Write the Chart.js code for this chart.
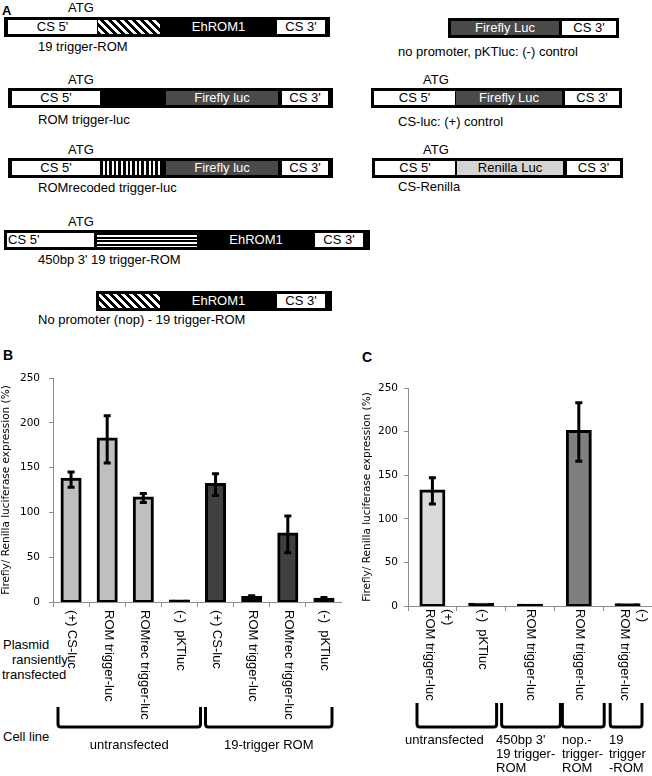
<!DOCTYPE html>
<html><head><meta charset="utf-8">
<script src="https://cdn.jsdelivr.net/npm/chart.js@4.4.1/dist/chart.umd.min.js"></script>
<style>
html,body{margin:0;padding:0;background:#fff;}
#root{position:relative;width:652px;height:776px;overflow:hidden;font-family:"Liberation Sans",Arial,sans-serif;color:#000;background:#fff;}
.t{position:absolute;font-size:13px;line-height:13px;white-space:nowrap;}
.pl{position:absolute;font-weight:bold;white-space:nowrap;}
.box{position:absolute;height:20px;background:#000;}
.seg{position:absolute;top:3px;height:14px;font-size:13px;line-height:14px;text-align:center;white-space:nowrap;overflow:hidden;}
canvas{position:absolute;}
</style></head>
<body><div id="root">
<div class="pl" style="left:2px;top:4px;font-size:13px;line-height:13px;">A</div>
<div class="pl" style="left:3px;top:348px;font-size:14px;line-height:14px;">B</div>
<div class="pl" style="left:362px;top:350px;font-size:14px;line-height:14px;">C</div>
<div class="t" style="left:3px;top:638px;">Plasmid</div>
<div class="t" style="left:12px;top:653px;">ransiently</div>
<div class="t" style="left:2px;top:668px;">transfected</div>
<div class="t" style="left:3px;top:730px;">Cell line</div>
</div>
<script>
// ---------- Panel B data ----------
const bCategories = [['(+) CS-luc'],['ROM trigger-luc'],['ROMrec trigger-luc'],['(-)  pKTluc'],['(+) CS-luc'],['ROM trigger-luc'],['ROMrec trigger-luc'],['(-)  pKTluc']];
const bValues   = [137, 182, 116, 1, 131, 5, 76, 3];
const bErrLow   = [128, 155, 111, 1, 119, 4, 55, 2];
const bErrHigh  = [145, 208, 121, 1, 143, 7, 96, 5];
const bGroupLabels = [['untransfected'], ['19-trigger ROM']];
const bGroupStart  = [0, 4];
const bGroupEnd    = [3, 7];

// ---------- Panel C data ----------
const cCategories = [['(+)','ROM trigger-luc'],['(-)  pKTluc'],['ROM trigger-luc'],['ROM trigger-luc'],['(-)','ROM trigger-luc']];
const cValues   = [132, 2, 1, 200, 1.5];
const cErrLow   = [117, 2, 1, 166, 1.5];
const cErrHigh  = [147, 2, 1, 233, 1.5];
const cGroupLabels = [['untransfected'], ['450bp 3\'','19 trigger-','ROM'], ['nop.-','trigger-','ROM'], ['19','trigger','-ROM']];
const cGroupStart  = [0, 2, 3, 4];
const cGroupEnd    = [1, 2, 3, 4];

// ---------- Y axis ----------
const yTitle = 'Firefly/ Renilla luciferase expression (%)';
const yMax = 250, yStep = 50;

// ---------- Panel A diagram ----------
const diag = 'repeating-linear-gradient(45deg,#000 0 2.8px,#fff 2.8px 5.6px)';
const vert = 'repeating-linear-gradient(90deg,#000 0 2.6px,#fff 2.6px 4.6px)';
const horz = 'repeating-linear-gradient(180deg,#000 0 2px,#fff 2px 3.6px)';
const rows = [
 {x:4,y:17,w:326,segs:[[8,89,'#fff',"CS 5'"],[98,62,diag,''],[160,117,'#000','EhROM1','#fff'],[277,48,'#fff',"CS 3'"]]},
 {x:8,y:88,w:325,segs:[[12,88,'#fff',"CS 5'"],[166,112,'#4a4a4a','Firefly luc','#fff'],[282,46,'#fff',"CS 3'"]]},
 {x:8,y:158,w:325,segs:[[12,88,'#fff',"CS 5'"],[100,62,vert,''],[166,112,'#4a4a4a','Firefly luc','#fff'],[282,46,'#fff',"CS 3'"]]},
 {x:4,y:230,w:366,segs:[[7,86,'#fff',"CS 5'",'#000','left'],[97,100,horz,''],[197,118,'#000','EhROM1','#fff'],[315,48,'#fff',"CS 3'"]]},
 {x:96,y:291,w:236,segs:[[99,61,diag,''],[160,117,'#000','EhROM1','#fff'],[277,48,'#fff',"CS 3'"]]},
 {x:448,y:18,w:171,segs:[[451,108,'#4a4a4a','Firefly Luc','#fff'],[562,54,'#fff',"CS 3'"]]},
 {x:371,y:88,w:251,segs:[[374,81,'#fff',"CS 5'"],[456,106,'#4a4a4a','Firefly Luc','#fff'],[565,54,'#fff',"CS 3'"]]},
 {x:372,y:158,w:251,segs:[[375,80,'#fff',"CS 5'"],[457,106,'#d4d4d4','Renilla Luc'],[567,53,'#fff',"CS 3'"]]}
];
const texts = [
 [68,1,'ATG'],[68,73,'ATG'],[68,143,'ATG'],[68,215,'ATG'],[423,73,'ATG'],[423,143,'ATG'],
 [38,40,'19 trigger-ROM'],[38,113,'ROM trigger-luc'],[38,181,'ROMrecoded trigger-luc'],
 [38,253,"450bp 3' 19 trigger-ROM"],[38,313,'No promoter (nop) - 19 trigger-ROM'],
 [398,45,'no promoter, pKTluc: (-) control'],[398,115,'CS-luc: (+) control'],[398,180,'CS-Renilla']
];
const root = document.getElementById('root');
rows.forEach(r=>{
  const b=document.createElement('div'); b.className='box';
  b.style.left=r.x+'px'; b.style.top=r.y+'px'; b.style.width=r.w+'px';
  r.segs.forEach(s=>{
    const d=document.createElement('div'); d.className='seg';
    d.style.left=(s[0]-r.x)+'px'; d.style.width=s[1]+'px'; d.style.background=s[2];
    d.textContent=s[3]; d.style.color=s[4]||'#000';
    if(s[5]==='left'){d.style.textAlign='left';d.style.paddingLeft='1px';}
    b.appendChild(d);
  });
  root.appendChild(b);
});
texts.forEach(t=>{const d=document.createElement('div');d.className='t';d.style.left=t[0]+'px';d.style.top=t[1]+'px';d.textContent=t[2];root.appendChild(d);});

// ---------- charts ----------
function decoPlugin(cfg){
  return {
    id:'deco',
    afterDatasetsDraw(chart){
      const ctx=chart.ctx, xs=chart.scales.x, ys=chart.scales.y;
      ctx.save(); ctx.strokeStyle='#000'; ctx.lineWidth=3;
      cfg.low.forEach((lo,i)=>{
        const hi=cfg.high[i]; if(hi-lo<0.5) return;
        const x=xs.getPixelForValue(i), y1=ys.getPixelForValue(hi), y2=ys.getPixelForValue(lo);
        ctx.beginPath(); ctx.moveTo(x,y1); ctx.lineTo(x,y2);
        ctx.moveTo(x-3.5,y1); ctx.lineTo(x+3.5,y1);
        ctx.moveTo(x-3.5,y2); ctx.lineTo(x+3.5,y2); ctx.stroke();
      });
      ctx.restore();
    },
    afterDraw(chart){
      const ctx=chart.ctx, xs=chart.scales.x;
      ctx.save();
      ctx.translate(-cfg.left,-cfg.top);
      ctx.fillStyle='#000';
      ctx.font='13px "Liberation Sans", Arial, sans-serif';
      const half=(xs.getPixelForValue(1)-xs.getPixelForValue(0))/2;
      // rotated tick labels
      cfg.labels.forEach((lines,i)=>{
        const c=xs.getPixelForValue(i)+cfg.left;
        const n=lines.length;
        lines.forEach((ln,k)=>{
          const x=c+1+(n-1-k)*18-(n-1)*4;
          ctx.save(); ctx.translate(x,cfg.labelTop); ctx.rotate(Math.PI/2);
          ctx.textAlign='left'; ctx.textBaseline='middle'; ctx.fillText(ln,0,0); ctx.restore();
        });
      });
      // brackets
      ctx.strokeStyle='#000'; ctx.lineWidth=3; ctx.lineJoin='round';
      cfg.gStart.forEach((s,g)=>{
        const x1=xs.getPixelForValue(s)+cfg.left-half+cfg.inset[g][0];
        const x2=xs.getPixelForValue(cfg.gEnd[g])+cfg.left+half-cfg.inset[g][1];
        const yt=cfg.brTop, yb=cfg.brBot, r=3;
        ctx.beginPath(); ctx.moveTo(x1,yt); ctx.lineTo(x1,yb-r); ctx.quadraticCurveTo(x1,yb,x1+r,yb);
        ctx.lineTo(x2-r,yb); ctx.quadraticCurveTo(x2,yb,x2,yb-r); ctx.lineTo(x2,yt); ctx.stroke();
        const lines=cfg.gLabels[g];
        lines.forEach((ln,k)=>{
          if(cfg.gAlign==='center'){ctx.textAlign='center';ctx.fillText(ln,(x1+x2)/2,cfg.gBase+k*14);}
          else {ctx.textAlign='left';ctx.fillText(ln,cfg.gX[g],cfg.gBase+k*14);}
        });
      });
      ctx.restore();
    }
  };
}
function makeChart(left,top,w,h,axisW,xH,padTop,labels,values,colorFn,barPct,deco,tickPad){
  const cv=document.createElement('canvas'); cv.width=w; cv.height=h;
  cv.style.left=left+'px'; cv.style.top=top+'px'; cv.style.width=w+'px'; cv.style.height=h+'px';
  root.appendChild(cv);
  const axisCol='#8c8c8c';
  new Chart(cv,{
    type:'bar',
    data:{labels:labels,datasets:[{data:values,backgroundColor:colorFn,borderColor:'#000',borderWidth:3,borderSkipped:false,inflateAmount:1.5,barPercentage:barPct,categoryPercentage:1}]},
    options:{
      responsive:false,animation:false,devicePixelRatio:1,
      layout:{padding:{top:padTop,left:0,right:0,bottom:0}},
      plugins:{legend:{display:false},tooltip:{enabled:false}},
      scales:{
        x:{grid:{display:true,drawOnChartArea:false,drawTicks:true,tickLength:5,color:axisCol,offset:true},border:{color:axisCol},ticks:{display:false},afterFit(s){s.height=xH;}},
        y:{min:0,max:yMax,ticks:{stepSize:yStep,color:'#000',padding:tickPad,font:{family:'"DejaVu Sans"',size:10.5}},
           grid:{drawOnChartArea:false,tickLength:4,color:axisCol},border:{color:axisCol},
           title:{display:true,text:yTitle,color:'#000',padding:0,font:{family:'"DejaVu Sans"',size:10.5}},
           afterFit(s){s.width=axisW;}}
      }
    },
    plugins:[deco]
  });
}
// tiny bars (near zero) render as solid black strokes, as in the original
const tiny = v => v <= 5;
makeChart(0,350,342,426,53,174,28,bCategories,bValues,
  c=>tiny(c.raw)?'#000':(c.dataIndex<4?'#bfbfbf':'#404040'),0.5,
  decoPlugin({left:0,top:350,low:bErrLow,high:bErrHigh,labels:bCategories,labelTop:610,
    gStart:bGroupStart,gEnd:bGroupEnd,gLabels:bGroupLabels,inset:[[5,-3],[8,10]],brTop:707,brBot:727,gAlign:'center',gBase:749}),9);
makeChart(361,350,291,426,47,170,38,cCategories,cValues,
  c=>tiny(c.raw)?'#000':(c.dataIndex===0?'#d9d9d9':'#7f7f7f'),0.47,
  decoPlugin({left:361,top:350,low:cErrLow,high:cErrHigh,labels:cCategories,labelTop:609,
    gStart:cGroupStart,gEnd:cGroupEnd,gLabels:cGroupLabels,inset:[[9,9],[-4,-6],[8,-1],[7,10]],brTop:703,brBot:727,gAlign:'left',gX:[405,496,562,609],gBase:744}),6);
</script>
</body></html>
